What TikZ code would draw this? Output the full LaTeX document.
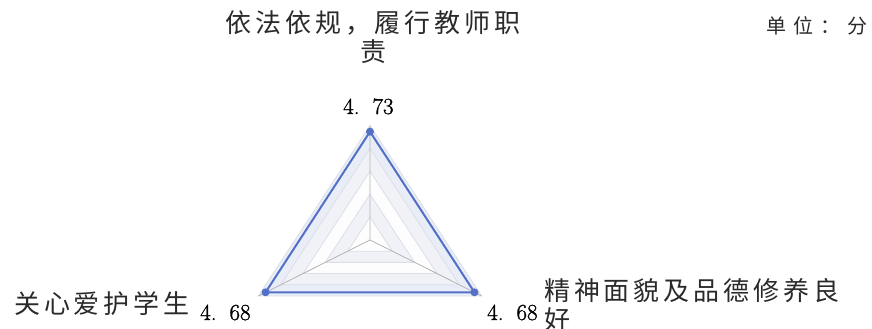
\documentclass[tikz,border=0pt]{standalone}
\usepackage{fontspec}
\usetikzlibrary{calc}
\newfontfamily\cjk{Noto Sans CJK SC}[LetterSpace=15]
\newfontfamily\cjkunit{Noto Sans CJK SC}[LetterSpace=35]
\newfontfamily\numfont{Latin Modern Roman}[FakeBold=1.2]
\definecolor{dataline}{HTML}{5470C6}
\definecolor{gridline}{HTML}{DCDFE6}
\definecolor{spoke}{HTML}{B4B4B4}
\definecolor{ringa}{HTML}{FDFDFE}
\definecolor{ringb}{HTML}{F1F2F7}
\definecolor{ringc}{HTML}{E8EDF8}
\definecolor{txt}{HTML}{2A2A2A}
\tikzset{
  lab/.style={inner sep=0pt, text=txt, font=\cjk\fontsize{26}{29}\selectfont},
  val/.style={inner sep=0pt, anchor=base west, text=black, font=\numfont\fontsize{23}{27}\selectfont},
  dot/.style={circle, fill=dataline, inner sep=0pt, minimum size=8pt},
  grid/.style={draw=gridline, line width=0.8pt},
}
\begin{document}
\begin{tikzpicture}[x=1pt,y=-1pt]
\useasboundingbox (0,0) rectangle (872,329);
\coordinate (C) at (370,240);
% rings
\foreach \k/\col in {5/ringc,4/ringb,3/ringa,2/ringb,1/ringa}{
  \fill[\col] ($(C)+\k/5*(0,-114.5)$) -- ($(C)+\k/5*(-111.6,55.9)$) -- ($(C)+\k/5*(111.6,55.9)$) -- cycle;
}
\foreach \k in {1,...,5}{
  \draw[grid] ($(C)+\k/5*(0,-114.5)$) -- ($(C)+\k/5*(-111.6,55.9)$) -- ($(C)+\k/5*(111.6,55.9)$) -- cycle;
}
\coordinate (OT) at ($(C)+(0,-114.5)$);
\coordinate (OL) at ($(C)+(-111.6,55.9)$);
\coordinate (OR) at ($(C)+(111.6,55.9)$);
\draw[spoke, line width=0.8pt] (C) -- (OT) (C) -- (OL) (C) -- (OR);
% data
\node[dot] (pT) at ($(C)+0.946*(0,-114.5)$) {};
\node[dot] (pL) at ($(C)+0.936*(-111.6,55.9)$) {};
\node[dot] (pR) at ($(C)+0.936*(111.6,55.9)$) {};
\draw[dataline, line width=2pt, line join=round] (pT.center) -- (pL.center) -- (pR.center) -- cycle;
% values
\node[val] (vT) at (343,114) {4.\hspace{13pt}73};
\node[val] (vL) at (200,320) {4.\hspace{13pt}68};
\node[val] (vR) at (487,320) {4.\hspace{13pt}68};
% labels
\node[lab, align=center, anchor=base] (lT) at (373,62) {依法依规，履行教师职\\责};
\node[lab, anchor=base west] (lL) at (14,313) {关心爱护学生};
\node[lab, align=left, anchor=base west] (lR) at (544,329) {精神面貌及品德修养良\\好};
\node[inner sep=0pt, anchor=base west, text=txt, font=\cjkunit\fontsize{20}{23}\selectfont] (unit) at (766,34) {单位：分};
\end{tikzpicture}
\end{document}
